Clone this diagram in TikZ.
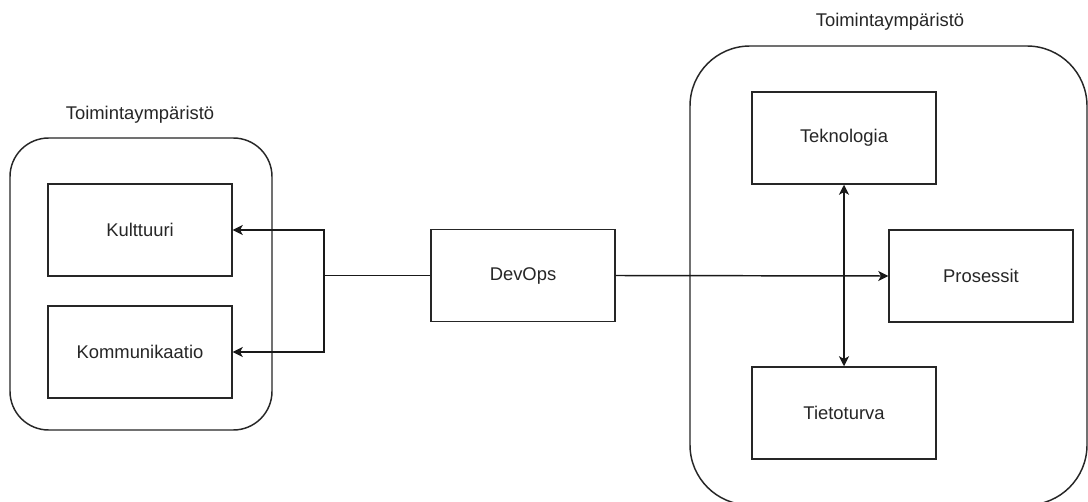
\documentclass[tikz,border=0pt]{standalone}
\usepackage{fontspec}
\setmainfont{Liberation Sans}
\usetikzlibrary{arrows.meta}
\begin{document}
\begin{tikzpicture}[x=0.75pt,y=-0.75pt,
  every node/.style={font=\fontsize{13.8pt}{16pt}\selectfont, text=black!85},
  box/.style={draw=black!85, line width=1.1pt, rectangle, minimum width=138pt, minimum height=69pt, inner sep=0pt},
  cont/.style={draw=black!85, line width=1.1pt},
  conn/.style={draw=black!90, line width=1.1pt},
  tip/.style={-{Stealth[length=7.5pt,width=7.5pt,inset=2pt]}},
  lbl/.style={inner sep=0pt}]
\clip (0,0) rectangle (1088,502);
\fill[white] (0,0) rectangle (1088,502);
% containers
\draw[cont, rounded corners=29pt] (10,138) rectangle (272,430);
\draw[cont, rounded corners=45pt] (690,46) rectangle (1087,505);
\node[lbl] (lt) at (140,115) {Toimintaympäristö};
\node[lbl] (rt) at (890,22) {Toimintaympäristö};
% boxes
\node[box] (kult) at (140,230) {Kulttuuri};
\node[box] (komm) at (140,352) {Kommunikaatio};
\node[box] (devops) at (523,275.5) {DevOps};
\node[box] (tek) at (844,138) {Teknologia};
\node[box] (pros) at (981,276) {Prosessit};
\node[box] (tieto) at (844,413) {Tietoturva};
% connectors
\coordinate (j) at (324,275.5);
\draw[conn] (devops.west) -- (j);
\draw[conn, tip] (j) |- (kult.east);
\draw[conn, tip] (j) |- (komm.east);
\draw[conn, tip] (devops.east) -- (pros.west);
\draw[conn, {Stealth[length=7.5pt,width=7.5pt,inset=2pt]}-{Stealth[length=7.5pt,width=7.5pt,inset=2pt]}] (tek.south) -- (tieto.north);
\end{tikzpicture}
\end{document}
